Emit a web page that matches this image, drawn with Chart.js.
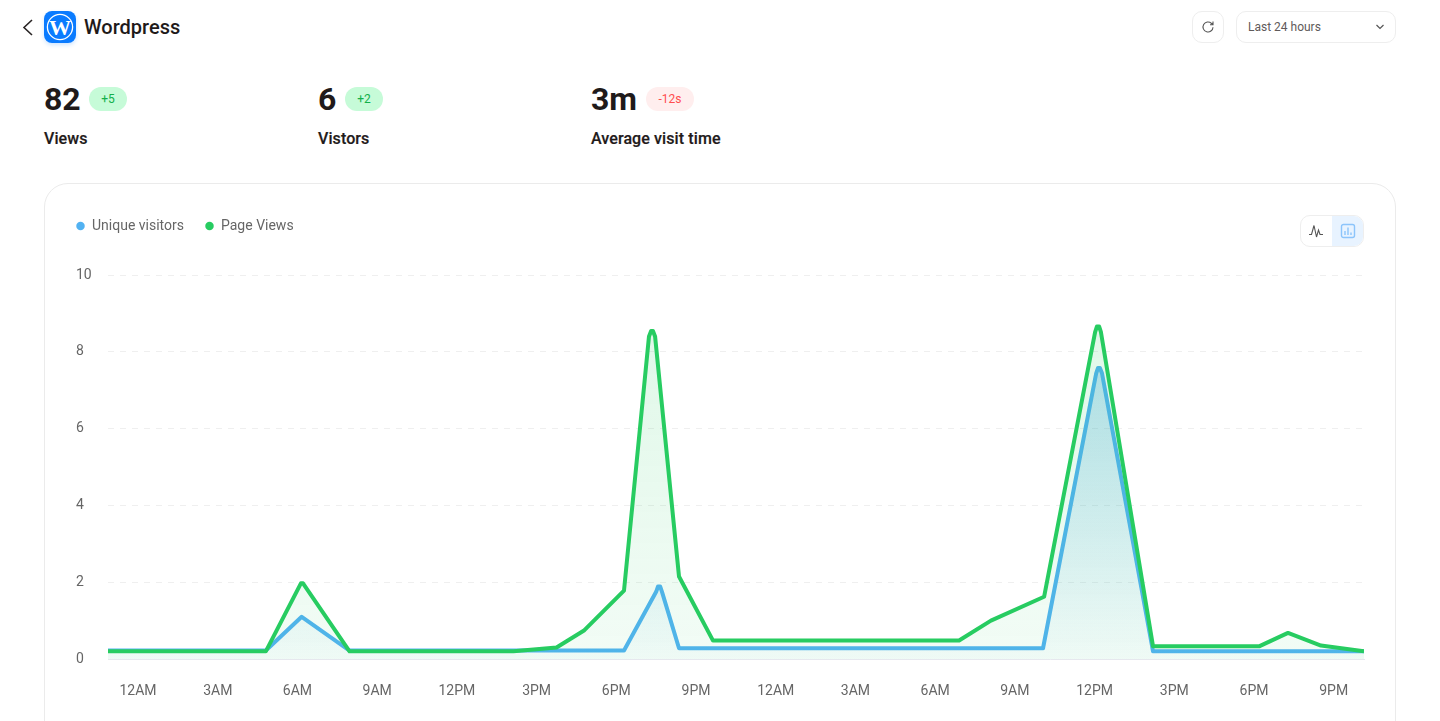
<!DOCTYPE html>
<html><head><meta charset="utf-8">
<script src="https://cdn.jsdelivr.net/npm/chart.js@4"></script>
<style>
html,body{margin:0;padding:0;width:1440px;height:721px;overflow:hidden;background:#fff;font-family:Roboto,sans-serif;color:#1f1a1a}
.a{position:absolute}
.num{font-size:32px;font-weight:700;line-height:38px;top:80px}
.lab{font-size:16px;font-weight:500;line-height:20px;top:129px;letter-spacing:.1px;-webkit-text-stroke:.2px #1f1a1a}
.badge{top:87px;height:24px;line-height:24px;border-radius:12px;font-size:12px;text-align:center}
.up{background:#c6fbd8;color:#12b04a}
.down{background:#ffeeee;color:#ff4d4f}
.btn{border:1px solid #eeeeee;border-radius:10px;box-sizing:border-box;background:#fff}
</style></head><body>
<svg class="a" style="left:20px;top:17px" width="16" height="20" viewBox="0 0 16 20"><path d="M12 3 L4 10.5 L12 18" fill="none" stroke="#2a2525" stroke-width="1.6"/></svg>
<div class="a" style="left:44px;top:11px;width:32px;height:32px;border-radius:8px;background:#0a7bff;box-shadow:0 2px 4px rgba(10,123,255,.2)">
<svg width="32" height="32" viewBox="0 0 32 32"><circle cx="16" cy="16" r="12.6" fill="none" stroke="#fff" stroke-width="1.3"/><text x="16" y="23.5" text-anchor="middle" font-family="Liberation Serif" font-weight="700" font-size="22" fill="#fff">W</text></svg></div>
<div class="a" style="left:84px;top:15px;font-size:20px;font-weight:500;line-height:24px">Wordpress</div>

<div class="a btn" style="left:1192px;top:11px;width:32px;height:32px"></div>
<svg class="a" style="left:1200px;top:19px" width="16" height="16" viewBox="0 0 16 16"><path d="M13 8.2A5 5 0 1 1 11.4 4.3L13 5.6M13 2.6V5.7H10" fill="none" stroke="#555" stroke-width="1.1"/></svg>
<div class="a btn" style="left:1236px;top:11px;width:160px;height:32px"></div>
<div class="a" style="left:1248px;top:19px;font-size:12px;line-height:16px;color:#5f5a5a">Last 24 hours</div>
<svg class="a" style="left:1375px;top:24px" width="10" height="6" viewBox="0 0 10 6"><path d="M1.5 1 L5 4.5 L8.5 1" fill="none" stroke="#555" stroke-width="1.2"/></svg>

<div class="a num" style="left:44px">82</div>
<div class="a badge up" style="left:89px;width:38px">+5</div>
<div class="a lab" style="left:44px">Views</div>
<div class="a num" style="left:318px">6</div>
<div class="a badge up" style="left:345px;width:38px">+2</div>
<div class="a lab" style="left:318px">Vistors</div>
<div class="a num" style="left:591px">3m</div>
<div class="a badge down" style="left:646px;width:48px">-12s</div>
<div class="a lab" style="left:591px">Average visit time</div>

<div class="a" style="left:44px;top:183px;width:1352px;height:600px;box-sizing:border-box;border:1px solid #ebebeb;border-radius:24px"></div>
<div class="a btn" style="left:1300px;top:215px;width:64px;height:32px;overflow:hidden"><div style="position:absolute;right:0;top:0;width:31px;height:32px;background:#e8f3ff"></div></div>
<svg class="a" style="left:1308px;top:223px" width="16" height="16" viewBox="0 0 16 16"><path d="M1 11.5H3.5L6 2.5L8.5 14L10.5 7L12 11.5H15" fill="none" stroke="#555" stroke-width="1.1"/></svg>
<svg class="a" style="left:1340px;top:223px" width="16" height="16" viewBox="0 0 16 16"><rect x="1.5" y="1.5" width="13" height="13" rx="2" fill="none" stroke="#8cc4fb" stroke-width="1.4"/><path d="M5 12V8M8 12V4.5M11 12V9.5" stroke="#8cc4fb" stroke-width="1.4"/></svg>

<div class="a" style="left:66px;top:198px;width:1310px;height:521px"><canvas id="c"></canvas></div>
<script>
const pageHours=[-1.13,4.81,6.13,6.21,7.96,14.13,15.75,16.8,18.29,19.23,19.31,19.38,19.46,20.36,21.64,30.9,32.1,34.1,36.02,36.09,36.17,36.24,38.2,42.19,43.28,44.52,46.14];
const pageViews=[0.2,0.2,1.97,1.97,0.2,0.2,0.3,0.75,1.78,8.4,8.54,8.54,8.4,2.15,0.48,0.48,1.0,1.62,8.51,8.66,8.66,8.51,0.33,0.33,0.68,0.35,0.2];
const visitorHours=[-1.13,4.81,6.16,7.96,18.29,19.5,19.57,19.65,19.72,20.36,34.06,36.06,36.13,36.2,36.28,38.2,46.14];
const uniqueVisitors=[0.22,0.22,1.1,0.22,0.22,1.75,1.89,1.89,1.75,0.28,0.28,7.44,7.58,7.58,7.44,0.2,0.2];
const tickHours=[0,3,6,9,12,15,18,21,24,27,30,33,36,39,42,45];
const tickLabels=["12AM","3AM","6AM","9AM","12PM","3PM","6PM","9PM","12AM","3AM","6AM","9AM","12PM","3PM","6PM","9PM"];
const yTicks=[0,2,4,6,8,10];
const seriesNames=["Unique visitors","Page Views"];
const toPoints=(xs,ys)=>xs.map((x,i)=>({x,y:ys[i]}));
function grad(top,bottom){return c=>{const a=c.chart.chartArea;if(!a)return top;const g=c.chart.ctx.createLinearGradient(0,a.top+60,0,a.bottom);g.addColorStop(0,top);g.addColorStop(1,bottom);return g;}}
const nudge={id:'nudge',
 beforeLayout(ch){const l=ch.legend;if(l&&!l._wrapped){l._wrapped=true;const f=l.fit;l.fit=function(){f.call(this);this.height+=32;};}},
 afterLayout(ch){if(ch.legend){ch.legend.left-=21;}}};
new Chart(document.getElementById('c'),{type:'line',
data:{datasets:[
{label:seriesNames[0],data:toPoints(visitorHours,uniqueVisitors),borderColor:'#52b2f2',backgroundColor:grad('rgba(70,165,230,.36)','rgba(70,165,230,.02)'),fill:'origin',borderWidth:4,pointRadius:0,tension:0,borderJoinStyle:'round',order:2},
{label:seriesNames[1],data:toPoints(pageHours,pageViews),borderColor:'#27cc61',backgroundColor:grad('rgba(39,204,97,.14)','rgba(39,204,97,.06)'),fill:'origin',borderWidth:4,pointRadius:0,tension:0,borderJoinStyle:'round',order:1}
]},
plugins:[nudge],
options:{responsive:true,maintainAspectRatio:false,animation:false,
layout:{padding:{left:10,right:12}},
plugins:{tooltip:{enabled:false},legend:{position:'top',align:'start',labels:{usePointStyle:true,pointStyle:'circle',boxWidth:9,boxHeight:6,padding:21,color:'#666',font:{family:'Roboto',size:14},
 sort:(a,b)=>a.datasetIndex-b.datasetIndex,
 generateLabels(ch){return Chart.defaults.plugins.legend.labels.generateLabels(ch).map(i=>({...i,fillStyle:i.strokeStyle,lineWidth:0}));}}}},
scales:{
x:{type:'linear',min:-1.13,max:46.14,
 afterBuildTicks(ax){ax.ticks=tickHours.map(v=>({value:v}));},
 afterFit(ax){ax.height=60;ax.paddingLeft=0;ax.paddingRight=0;},
 border:{display:true,color:'#e6e8ee',width:1},grid:{display:false},
 ticks:{autoSkip:false,maxRotation:0,padding:16,color:'#666',font:{family:'Roboto',size:14},callback:(v,i)=>tickLabels[i]}},
y:{min:0,max:10,
 afterBuildTicks(ax){ax.ticks=yTicks.map(v=>({value:v}));},
 afterFit(ax){ax.width=32;},
 border:{display:false,dash:[6,6]},grid:{color:'#efefef',drawTicks:false,lineWidth:1},
 ticks:{crossAlign:'far',padding:0,color:'#666',font:{family:'Roboto',size:14}}}
}}});
</script>
</body></html>
